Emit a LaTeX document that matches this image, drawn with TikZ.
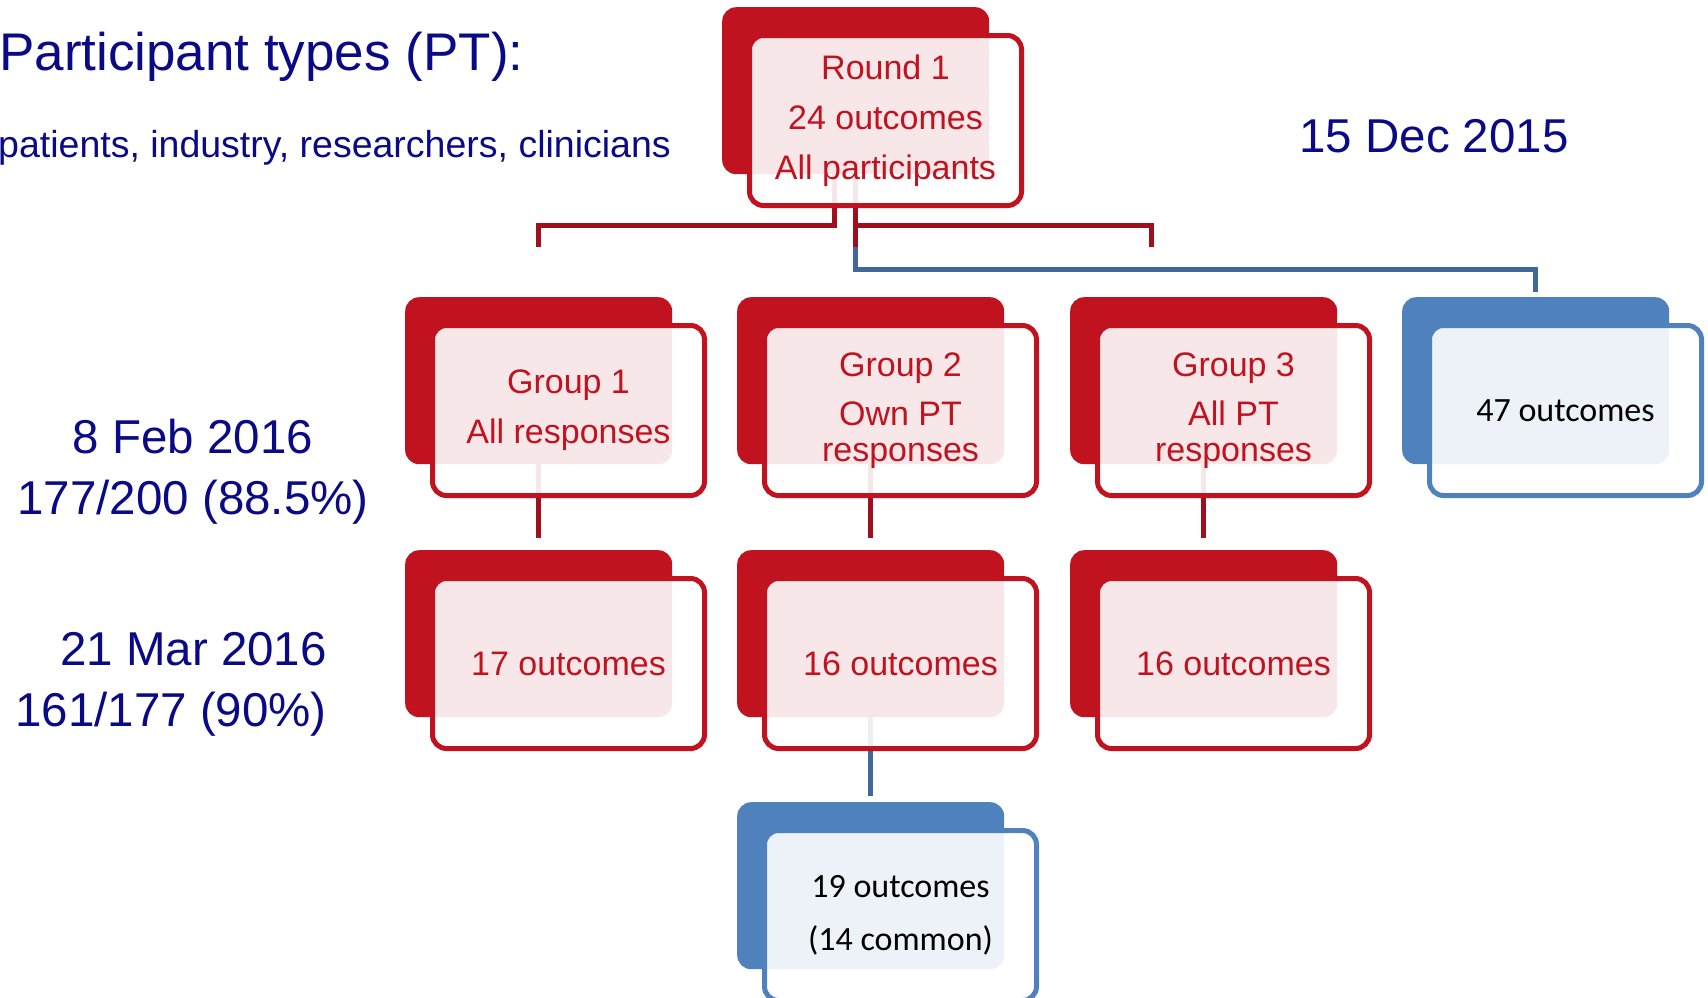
\documentclass[tikz,border=0pt]{standalone}
\usepackage{fontspec}
\setmainfont{Liberation Sans}
\newfontfamily\calibfont{Carlito}
\usetikzlibrary{positioning}
\definecolor{boxred}{RGB}{192,19,31}
\definecolor{linered}{RGB}{158,16,29}
\definecolor{boxblue}{RGB}{79,129,189}
\definecolor{lineblue}{RGB}{64,104,154}
\definecolor{navytext}{RGB}{10,10,135}

\begin{document}
\begin{tikzpicture}[
x=1pt, y=-1pt,
redback/.style={fill=boxred, rounded corners=14pt, minimum width=267pt, minimum height=167pt, inner sep=0pt, anchor=north west},
blueback/.style={redback, fill=boxblue},
redfront/.style={draw=boxred, line width=5pt, fill=white, fill opacity=0.9, text opacity=1, rounded corners=14pt, minimum width=272pt, minimum height=170pt, inner sep=0pt, align=center, text=boxred, font=\fontsize{34}{50}\selectfont},
bluefront/.style={redfront, draw=boxblue, text=black, font=\calibfont\fontsize{34}{53}\selectfont},
twoline/.style={font=\fontsize{34}{36}\selectfont},
redline/.style={draw=linered, line width=5pt},
blueline/.style={draw=lineblue, line width=5pt},
datelbl/.style={text=navytext, font=\fontsize{47.5}{61}\selectfont, inner sep=0pt},
]

\useasboundingbox (0,0) rectangle (1708,997);

%back shapes
\node[redback] (r1back) at (722,7) {};

\node[redback] (g1back) at (405,297) {};
\node[redback] (g2back) at (737,297) {};
\node[redback] (g3back) at (1070,297) {};
\node[blueback] (allback) at (1402,297) {};

\node[redback] (o1back) at (405,550) {};
\node[redback] (o2back) at (737,550) {};
\node[redback] (o3back) at (1070,550) {};

\node[blueback] (comback) at (737,802) {};

%connectors
\coordinate (g1stub) at ([yshift=50pt]g1back.north);
\coordinate (g2stub) at ([yshift=-73pt]r1back.south);
\coordinate (g3stub) at (1151,247);

\draw[blueline] (r1back.south) -- ++(0,95) -| ([yshift=5pt]allback.north);
\draw[redline] ([xshift=-21pt]r1back.south) -- ++(0,51) -| (g1stub);
\draw[redline] (r1back.south) -- (g2stub);
\draw[redline] (r1back.south) ++(0,51) -| (g3stub);

\draw[redline] (g1back.south) -- ([yshift=12pt]o1back.north);
\draw[redline] (g2back.south) -- ([yshift=12pt]o2back.north);
\draw[redline] (g3back.south) -- ([yshift=12pt]o3back.north);
\draw[blueline] (o2back.south) -- ([yshift=6pt]comback.north);

%front shapes
\node[redfront, below right=26pt and 25pt of r1back.north west] (r1) {Round 1\\24 outcomes\\All participants};

\node[redfront, below right=26pt and 25pt of g1back.north west] (g1) {Group 1\\All responses};
\node[redfront, twoline, below right=26pt and 25pt of g2back.north west] (g2) {Group 2\\[13pt]Own PT\\responses};
\node[redfront, twoline, below right=26pt and 25pt of g3back.north west] (g3) {Group 3\\[13pt]All PT\\responses};
\node[bluefront, below right=26pt and 25pt of allback.north west] (all) {47 outcomes};

\node[redfront, below right=26pt and 25pt of o1back.north west] (o1) {17 outcomes};
\node[redfront, below right=26pt and 25pt of o2back.north west] (o2) {16 outcomes};
\node[redfront, below right=26pt and 25pt of o3back.north west] (o3) {16 outcomes};

\node[bluefront, below right=26pt and 25pt of comback.north west] (com) {19 outcomes\\(14 common)};

%labels
\node[anchor=base west, inner sep=0pt, text=navytext, font=\fontsize{53}{60}\selectfont] (pttitle) at (-1,70) {Participant types (PT):};
\node[anchor=base west, inner sep=0pt, text=navytext, font=\fontsize{37.5}{45}\selectfont] (ptlist) at (-2,157) {patients, industry, researchers, clinicians};

\node[datelbl, anchor=base] (date1) at (1434,152) {15 Dec 2015};
\node[datelbl, align=center] (date2) at (193,472) {8 Feb 2016\\177/200 (88.5\%)};
\node[datelbl, align=right, anchor=east] (date3) at (327,684) {21 Mar 2016\\161/177 (90\%)};

\end{tikzpicture}
\end{document}
